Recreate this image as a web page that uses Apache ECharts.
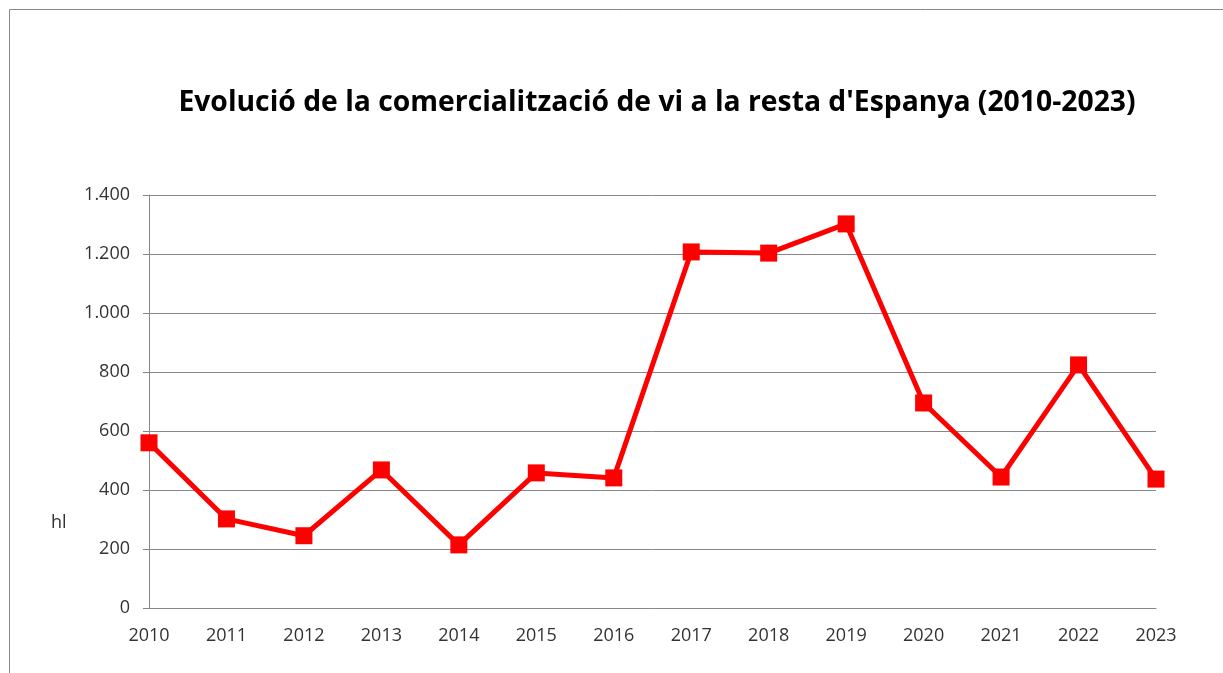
<!DOCTYPE html>
<html>
<head>
<meta charset="utf-8">
<script src="https://cdn.jsdelivr.net/npm/echarts@6/dist/echarts.min.js"></script>
<style>
html,body{margin:0;padding:0;background:#fff;}
#chart{width:1223px;height:673px;}
</style>
</head>
<body>
<div id="chart"></div>
<script>
// dades
var anys = ['2010','2011','2012','2013','2014','2015','2016','2017','2018','2019','2020','2021','2022','2023'];
var hl = [560, 302, 245, 468, 214, 458, 441, 1207, 1203, 1302, 695, 444, 824, 437];
var titol = "Evolució de la comercialització de vi a la resta d'Espanya (2010-2023)";

var chart = echarts.init(document.getElementById('chart'));

function punts(v) {
    return String(v).replace(/\B(?=(\d{3})+(?!\d))/g, '.');
}

var option = {
    backgroundColor: '#fff',
    animation: false,
    title: {
        text: titol,
        left: 652,
        textAlign: 'center',
        top: 84,
        textStyle: {
            fontFamily: 'Open Sans',
            fontWeight: 'bold',
            fontSize: 28.3,
            color: '#000'
        }
    },
    graphic: [
        {
            type: 'rect',
            shape: {x: 9.5, y: 9.5, width: 1230, height: 700},
            style: {fill: 'none', stroke: '#888', lineWidth: 1}
        },
        {
            type: 'text',
            left: 51,
            top: 514,
            style: {text: 'hl', font: '18px "Open Sans"', fill: '#333'}
        }
    ],
    grid: {left: 149, right: 67, top: 195, bottom: 65},
    xAxis: {
        type: 'category',
        data: anys,
        boundaryGap: false,
        axisLine: {lineStyle: {color: '#888', width: 1}},
        axisTick: {show: false},
        axisLabel: {
            color: '#333',
            fontFamily: 'Open Sans',
            fontSize: 18,
            margin: 19
        }
    },
    yAxis: {
        type: 'value',
        min: 0,
        max: 1400,
        interval: 200,
        axisLine: {show: true, lineStyle: {color: '#888', width: 1}},
        axisTick: {show: true, length: 6, lineStyle: {color: '#888'}},
        splitLine: {lineStyle: {color: '#888', width: 1}},
        axisLabel: {
            color: '#333',
            fontFamily: 'Open Sans',
            fontSize: 18,
            margin: 19,
            formatter: punts
        }
    },
    series: [{
        type: 'line',
        data: hl,
        symbol: 'rect',
        symbolSize: 17,
        lineStyle: {color: '#ff0000', width: 5},
        itemStyle: {color: '#ff0000'}
    }]
};
chart.setOption(option);
</script>
</body>
</html>
